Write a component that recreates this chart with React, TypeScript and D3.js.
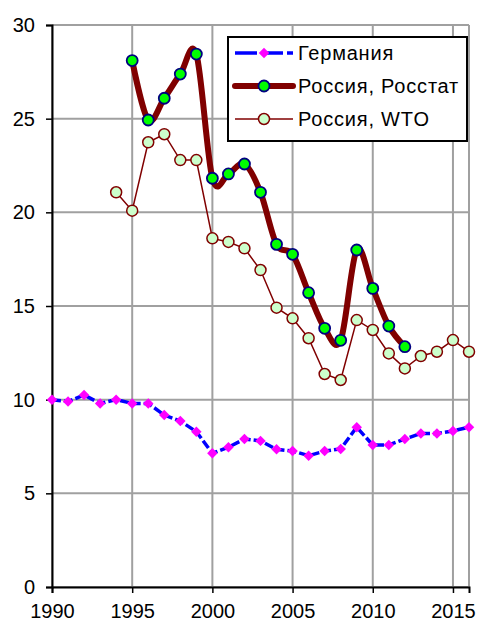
import React, { useEffect, useRef } from "react";
import * as d3 from "d3";

const germanyYears = d3.range(1990, 2017);
const germanyValues = [
  10.0, 9.9, 10.25, 9.8, 10.0, 9.8, 9.8, 9.18, 8.86, 8.29, 7.14, 7.46, 7.9, 7.8,
  7.35, 7.26, 7.01, 7.26, 7.37, 8.53, 7.58, 7.58, 7.9, 8.2, 8.2, 8.33, 8.53,
];

const rosstatYears = d3.range(1995, 2013);
const rosstatValues = [
  28.1, 24.93, 26.09, 27.38, 28.45, 21.82, 22.05, 22.58, 21.07, 18.29, 17.76,
  15.71, 13.81, 13.17, 17.99, 15.94, 13.93, 12.83,
];

const wtoYears = d3.range(1994, 2017);
const wtoValues = [
  21.07, 20.09, 23.74, 24.17, 22.79, 22.79, 18.61, 18.42, 18.08, 16.92, 14.91,
  14.34, 13.28, 11.37, 11.05, 14.25, 13.72, 12.47, 11.67, 12.33, 12.56, 13.18,
  12.56,
];

const xTicks = [1990, 1995, 2000, 2005, 2010, 2015];
const yTicks = [0, 5, 10, 15, 20, 25, 30];
const legendLabels = ["Германия", "Россия, Росстат", "Россия, WTO"];

const W = 480;
const H = 623;
const font = "'Liberation Sans', Arial, sans-serif";

export default function App() {
  const ref = useRef<SVGSVGElement>(null);

  useEffect(() => {
    const svg = d3.select(ref.current);
    svg.selectAll("*").remove();

    const x = d3.scaleLinear().domain([1990, 2016]).range([52, 469]);
    const y = d3.scaleLinear().domain([0, 30]).range([587, 25]);

    // grid
    const grid = svg.append("g").attr("stroke", "#a0a0a0").attr("stroke-width", 2);
    [...xTicks, 2016].forEach((t) => {
      grid.append("line").attr("x1", x(t)).attr("x2", x(t)).attr("y1", y(0)).attr("y2", y(30));
    });
    yTicks.forEach((t) => {
      grid.append("line").attr("x1", x(1990)).attr("x2", x(2016)).attr("y1", y(t)).attr("y2", y(t));
    });

    // axes
    const axisY = svg
      .append("g")
      .attr("transform", `translate(${x(1990)},0)`)
      .call(d3.axisLeft(y).tickValues(yTicks).tickSize(6).tickPadding(11));
    const axisX = svg
      .append("g")
      .attr("transform", `translate(0,${y(0)})`)
      .call(d3.axisBottom(x).tickValues(xTicks).tickFormat(d3.format("d")).tickSize(6).tickPadding(11));
    [axisY, axisX].forEach((a) => {
      a.attr("font-size", 20).attr("font-family", font);
      a.select(".domain").attr("stroke", "#000").attr("stroke-width", 2);
      a.selectAll(".tick line").attr("stroke", "#000").attr("stroke-width", 1.5);
      a.selectAll("text").attr("fill", "#000");
    });

    const germany = germanyYears.map((d, i) => [d, germanyValues[i]] as [number, number]);
    const rosstat = rosstatYears.map((d, i) => [d, rosstatValues[i]] as [number, number]);
    const wto = wtoYears.map((d, i) => [d, wtoValues[i]] as [number, number]);

    const line = d3.line<[number, number]>().x((d) => x(d[0])).y((d) => y(d[1]));
    const smooth = d3
      .line<[number, number]>()
      .x((d) => x(d[0]))
      .y((d) => y(d[1]))
      .curve(d3.curveCardinal.tension(0));

    const diamond = d3.symbol().type(d3.symbolDiamond2).size(70);

    // Germany
    svg.append("path").datum(germany).attr("d", line).attr("fill", "none")
      .attr("stroke", "#0000ff").attr("stroke-width", 3.5).attr("stroke-dasharray", "9,3");
    svg.append("g").selectAll("path").data(germany).join("path")
      .attr("d", diamond).attr("transform", (d) => `translate(${x(d[0])},${y(d[1])})`)
      .attr("fill", "#ff00ff");

    // WTO
    svg.append("path").datum(wto).attr("d", line).attr("fill", "none")
      .attr("stroke", "#800000").attr("stroke-width", 1.5);
    svg.append("g").selectAll("circle").data(wto).join("circle")
      .attr("cx", (d) => x(d[0])).attr("cy", (d) => y(d[1])).attr("r", 5.5)
      .attr("fill", "#ccffcc").attr("stroke", "#800000").attr("stroke-width", 1.5);

    // Rosstat
    svg.append("path").datum(rosstat).attr("d", smooth).attr("fill", "none")
      .attr("stroke", "#800000").attr("stroke-width", 6);
    svg.append("g").selectAll("circle").data(rosstat).join("circle")
      .attr("cx", (d) => x(d[0])).attr("cy", (d) => y(d[1])).attr("r", 5.5)
      .attr("fill", "#00ff00").attr("stroke", "#000080").attr("stroke-width", 1.8);

    // legend
    const lg = svg.append("g");
    lg.append("rect").attr("x", 228).attr("y", 37).attr("width", 239).attr("height", 104)
      .attr("fill", "#fff").attr("stroke", "#000").attr("stroke-width", 2);
    const rows = [53, 86, 119];
    const lx1 = 235, lx2 = 293, lm = 264;
    lg.append("line").attr("x1", lx1).attr("x2", lx2).attr("y1", rows[0]).attr("y2", rows[0])
      .attr("stroke", "#0000ff").attr("stroke-width", 3.5).attr("stroke-dasharray", "22,4");
    lg.append("path").attr("d", diamond).attr("transform", `translate(${lm},${rows[0]})`).attr("fill", "#ff00ff");
    lg.append("line").attr("x1", lx1).attr("x2", lx2).attr("y1", rows[1]).attr("y2", rows[1])
      .attr("stroke", "#800000").attr("stroke-width", 6).attr("stroke-linecap", "round");
    lg.append("circle").attr("cx", lm).attr("cy", rows[1]).attr("r", 5.5)
      .attr("fill", "#00ff00").attr("stroke", "#000080").attr("stroke-width", 1.8);
    lg.append("line").attr("x1", lx1).attr("x2", lx2).attr("y1", rows[2]).attr("y2", rows[2])
      .attr("stroke", "#800000").attr("stroke-width", 1.5);
    lg.append("circle").attr("cx", lm).attr("cy", rows[2]).attr("r", 5.5)
      .attr("fill", "#ccffcc").attr("stroke", "#800000").attr("stroke-width", 1.5);
    legendLabels.forEach((t, i) => {
      lg.append("text").attr("x", 298).attr("y", rows[i]).attr("dy", "0.36em")
        .attr("font-family", font).attr("font-size", 20).attr("letter-spacing", 0.8)
        .attr("fill", "#000").text(t);
    });
  }, []);

  return (
    <svg
      ref={ref}
      width={W}
      height={H}
      style={{ position: "absolute", left: 0, top: 0, background: "#fff" }}
    />
  );
}
